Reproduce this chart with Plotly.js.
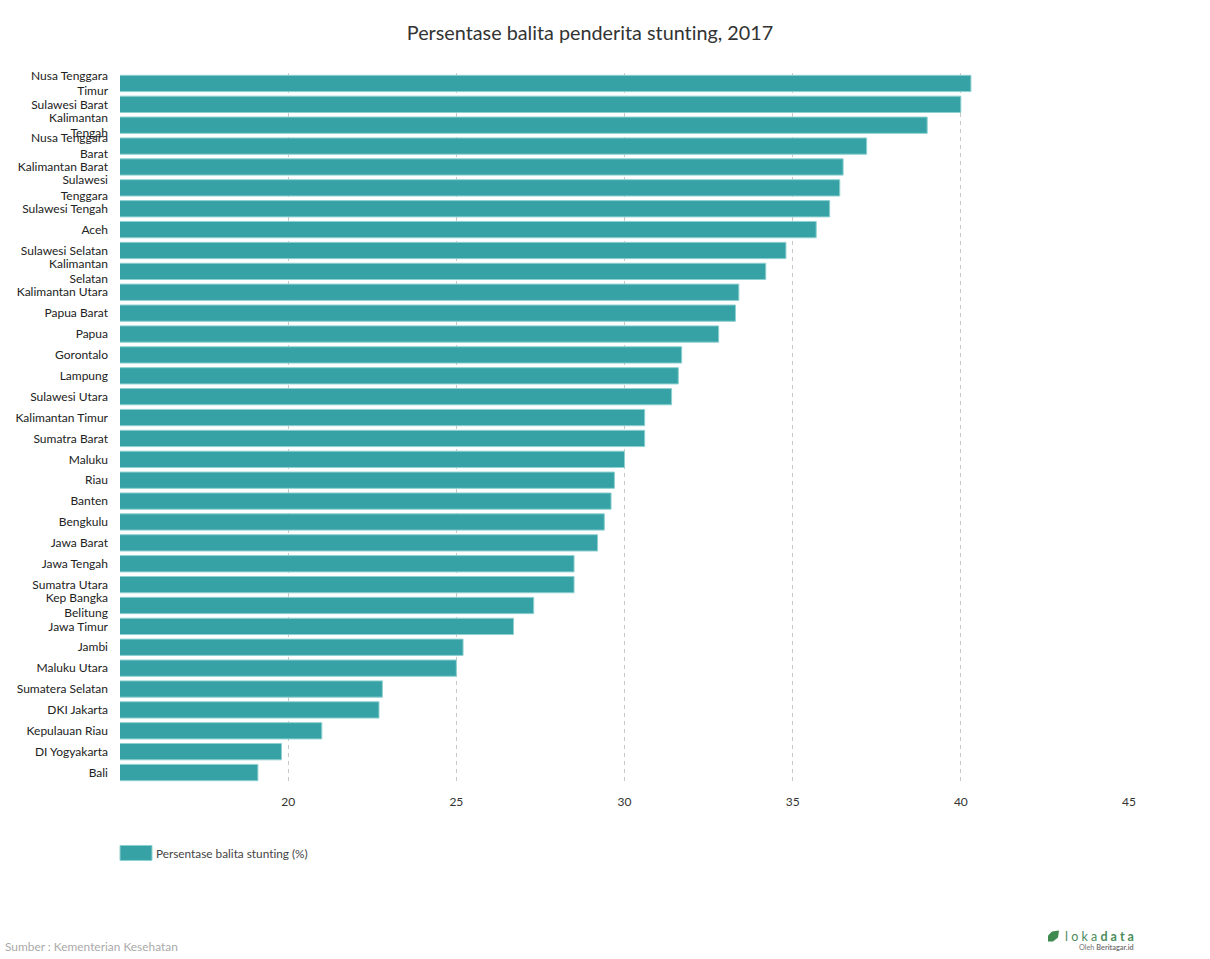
<!DOCTYPE html>
<html><head><meta charset="utf-8">
<script src="https://cdn.plot.ly/plotly-3.0.1.min.js"></script>
<style>html,body{margin:0;padding:0;background:#fff} svg text{font-variant-ligatures:none !important;font-feature-settings:"liga" 0 !important}</style></head>
<body><div id="chart" style="width:1210px;height:959px"></div>
<script>
const categories = ["Nusa Tenggara<br>Timur","Sulawesi Barat","Kalimantan<br>Tengah","Nusa Tenggara<br>Barat","Kalimantan Barat","Sulawesi<br>Tenggara","Sulawesi Tengah","Aceh","Sulawesi Selatan","Kalimantan<br>Selatan","Kalimantan Utara","Papua Barat","Papua","Gorontalo","Lampung","Sulawesi Utara","Kalimantan Timur","Sumatra Barat","Maluku","Riau","Banten","Bengkulu","Jawa Barat","Jawa Tengah","Sumatra Utara","Kep Bangka<br>Belitung","Jawa Timur","Jambi","Maluku Utara","Sumatera Selatan","DKI Jakarta","Kepulauan Riau","DI Yogyakarta","Bali"];
const values = [40.3,40.0,39.0,37.2,36.5,36.4,36.1,35.7,34.8,34.2,33.4,33.3,32.8,31.7,31.6,31.4,30.6,30.6,30.0,29.7,29.6,29.4,29.2,28.5,28.5,27.3,26.7,25.2,25.0,22.8,22.7,21.0,19.8,19.1];
const xTicks = [15,20,25,30,35,40,45];
const xTickLabels = ["","20","25","30","35","40","45"];
const seriesName = "Persentase balita stunting (%)";
const FONT = "Lato, 'Open Sans', sans-serif";
const W = 1210, H = 959;
const L = 120, T = 73, PW = 1009, PH = 710.5;
const px = v => (v - L) / PW, py = v => 1 - (v - T) / PH;
const data = [{type:"bar",orientation:"h",y:categories,x:values,name:seriesName,
  marker:{color:"#36a2a6",line:{color:"#8fd0d0",width:1}},hoverinfo:"x+y"}];
const layout = {
  width:W,height:H,autosize:false,paper_bgcolor:"#fff",plot_bgcolor:"#fff",
  font:{family:FONT,size:12,color:"#333"},
  margin:{l:L,r:W-L-PW,t:T,b:H-T-PH,pad:0},
  bargap:0.22,
  title:{text:"Persentase balita penderita stunting, 2017",font:{family:FONT,size:19.8,color:"#333"},x:590/W,xanchor:"center",y:1-33/H,yanchor:"middle"},
  xaxis:{range:[15,45],tickmode:"array",tickvals:xTicks,ticktext:xTickLabels,side:"bottom",
    showgrid:true,gridcolor:"#c8c8c8",griddash:"4px,4px",gridwidth:1,zeroline:false,showline:false,ticks:"",
    ticklabelstandoff:10,tickfont:{family:FONT,size:12,color:"#333"}},
  yaxis:{autorange:"reversed",type:"category",showgrid:false,zeroline:false,showline:false,ticks:"",
    ticklabelstandoff:11,tickfont:{family:FONT,size:12,color:"#222"},automargin:false},
  showlegend:true,
  legend:{x:px(116),xanchor:"left",y:py(853.5),yanchor:"middle",orientation:"h",font:{family:FONT,size:11.8,color:"#444"},itemwidth:30,bgcolor:"rgba(0,0,0,0)"},
  shapes:[{type:"path",xref:"paper",yref:"paper",
    path:`M ${px(1048)} ${py(936)} L ${px(1052)} ${py(932)} L ${px(1059)} ${py(931)} L ${px(1058)} ${py(938)} L ${px(1053)} ${py(942)} L ${px(1048)} ${py(942)} Z`,
    fillcolor:"#3f8a4f",line:{width:0}}],
  annotations:[
    {text:"Sumber : Kementerian Kesehatan",xref:"paper",yref:"paper",x:px(2.5),y:py(947),xanchor:"left",yanchor:"middle",showarrow:false,font:{family:FONT,size:11.9,color:"#aaa"}},
    {text:"l o k a <b>d a t a</b>",xref:"paper",yref:"paper",x:px(1136),y:py(937),xanchor:"right",yanchor:"middle",showarrow:false,font:{family:FONT,size:12.5,color:"#4a8c5c"}},
    {text:"Oleh <b>Beritagar.id</b>",xref:"paper",yref:"paper",x:px(1135.5),y:py(948),xanchor:"right",yanchor:"middle",showarrow:false,font:{family:FONT,size:7.3,color:"#777"}}
  ]
};
Plotly.newPlot("chart",data,layout,{displayModeBar:false,responsive:false}).then(gd=>{
  gd.querySelectorAll(".legend .legendpoints path").forEach(p=>{p.setAttribute("d","M-16,-7.5h32v15h-32Z");});
});
</script></body></html>
